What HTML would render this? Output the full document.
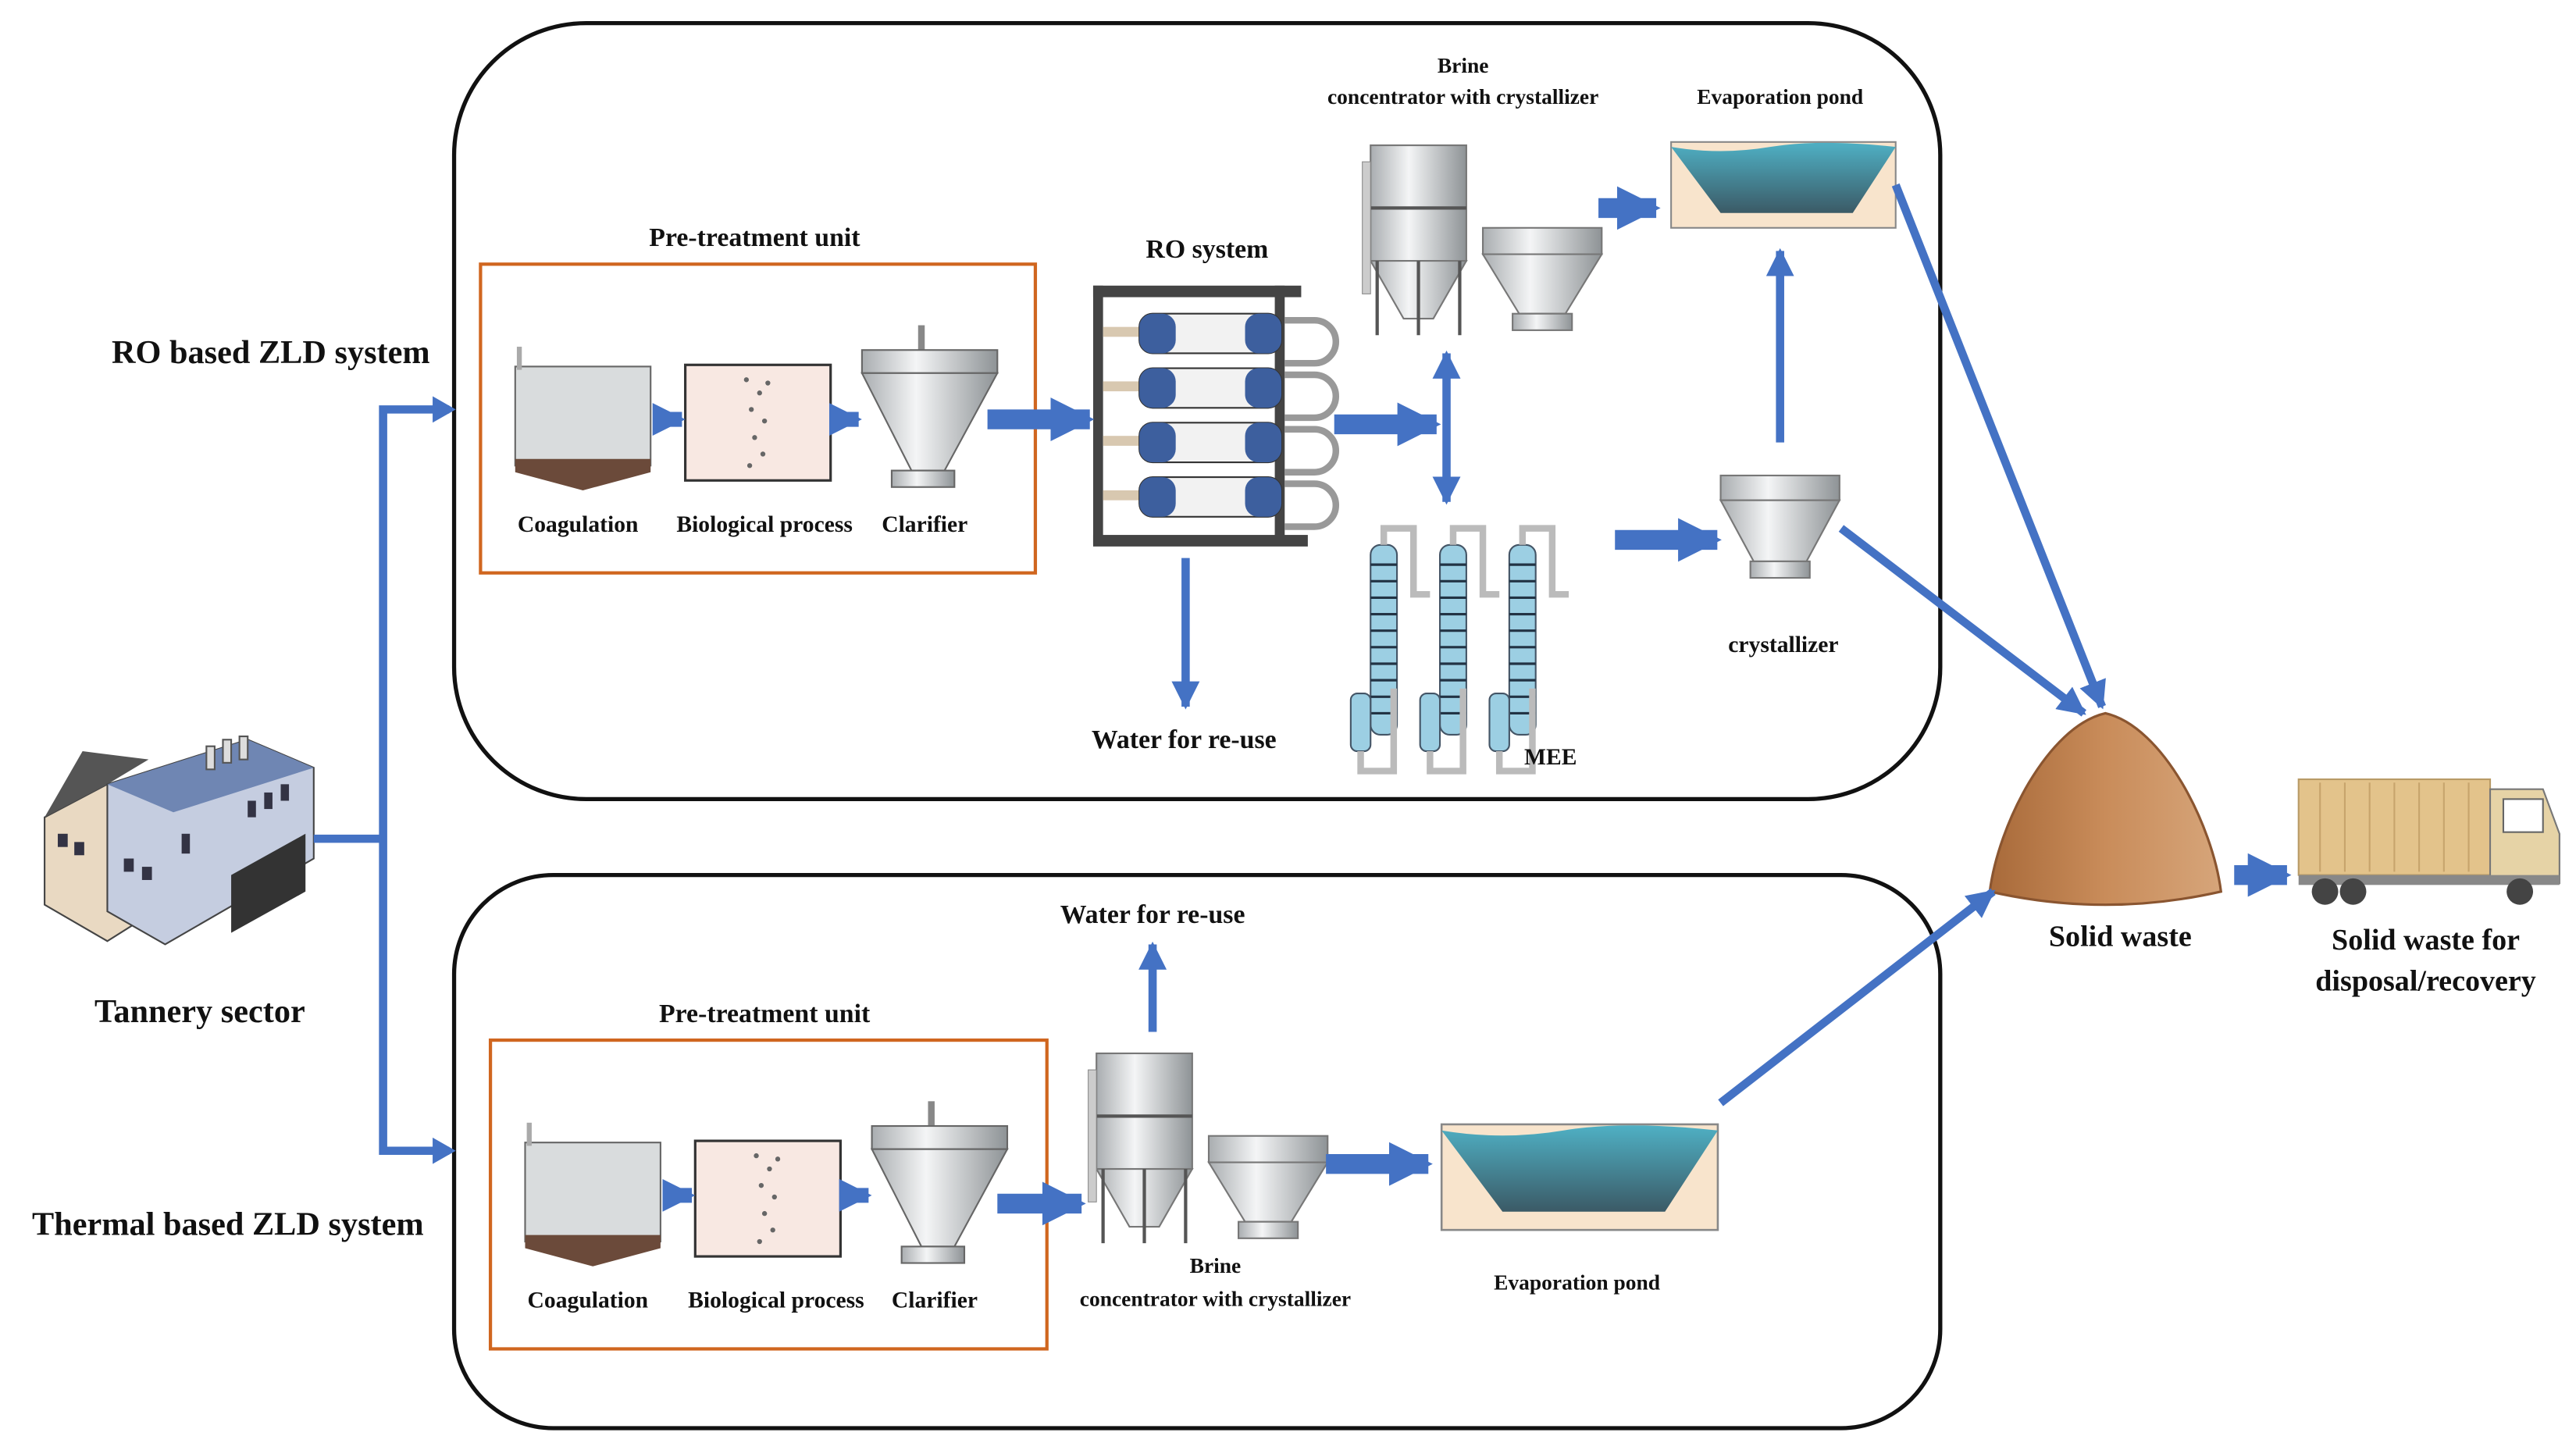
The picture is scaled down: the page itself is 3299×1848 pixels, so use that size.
<!DOCTYPE html>
<html><head><meta charset="utf-8"><style>
html,body{margin:0;padding:0;background:#fff;}
svg{display:block}
text{font-family:"Liberation Serif",serif;font-weight:bold;fill:#111;text-anchor:middle}
</style></head><body>
<svg width="3299" height="1848" viewBox="0 0 1560 874" preserveAspectRatio="none" xmlns="http://www.w3.org/2000/svg">
<defs>
<marker id="hb" viewBox="0 0 10 10" refX="9" refY="5" markerWidth="2.2" markerHeight="3" orient="auto"><path d="M0,0L10,5L0,10z" fill="#4472C4"/></marker>
<marker id="hs" viewBox="0 0 10 10" refX="9" refY="5" markerWidth="3.4" markerHeight="3.4" orient="auto-start-reverse"><path d="M0,0L10,5L0,10z" fill="#4472C4"/></marker>
<linearGradient id="met" x1="0" x2="1"><stop offset="0" stop-color="#a9adb0"/><stop offset=".4" stop-color="#f4f5f6"/><stop offset="1" stop-color="#8e9396"/></linearGradient>
<linearGradient id="wat" x1="0" y1="0" x2="0" y2="1"><stop offset="0" stop-color="#4fb0c4"/><stop offset="1" stop-color="#3b5a66"/></linearGradient>
<linearGradient id="sand" x1="0" x2="1"><stop offset="0" stop-color="#a86a3a"/><stop offset=".5" stop-color="#c98c5a"/><stop offset="1" stop-color="#d6a57a"/></linearGradient>
<g id="pre">
 <rect x="312" y="222" width="82" height="60" fill="#d9dcdd" stroke="#666" stroke-width="1"/>
 <path d="M312,278 L394,278 L394,286 L353,297 L312,286z" fill="#6b4a3a"/>
 <rect x="313" y="210" width="3" height="14" fill="#aaa"/>
 <rect x="415" y="221" width="88" height="70" fill="#f8e8e2" stroke="#333" stroke-width="1.5"/>
 <g fill="#666"><circle cx="452" cy="230" r="1.5"/><circle cx="460" cy="238" r="1.5"/><circle cx="455" cy="248" r="1.5"/><circle cx="463" cy="255" r="1.5"/><circle cx="457" cy="265" r="1.5"/><circle cx="462" cy="275" r="1.5"/><circle cx="454" cy="282" r="1.5"/><circle cx="465" cy="232" r="1.5"/></g>
 <rect x="556" y="197" width="4" height="15" fill="#888"/>
 <rect x="522" y="212" width="82" height="14" fill="url(#met)" stroke="#666" stroke-width="1"/>
 <path d="M522,226 L604,226 L572,285 L552,285z" fill="url(#met)" stroke="#666" stroke-width="1"/>
 <rect x="540" y="285" width="38" height="10" fill="url(#met)" stroke="#666" stroke-width="1"/>
 <line x1="396" y1="254" x2="413" y2="254" stroke="#4472C4" stroke-width="9" marker-end="url(#hb)"/>
 <line x1="504" y1="254" x2="520" y2="254" stroke="#4472C4" stroke-width="9" marker-end="url(#hb)"/>
</g>
<g id="brine">
 <rect x="0" y="0" width="58" height="70" fill="url(#met)" stroke="#777" stroke-width="1"/>
 <path d="M0,70 L58,70 L38,105 L20,105z" fill="url(#met)" stroke="#777" stroke-width="1"/>
 <line x1="4" y1="70" x2="4" y2="115" stroke="#555" stroke-width="2"/><line x1="29" y1="70" x2="29" y2="115" stroke="#555" stroke-width="2"/><line x1="54" y1="70" x2="54" y2="115" stroke="#555" stroke-width="2"/>
 <line x1="0" y1="38" x2="58" y2="38" stroke="#555" stroke-width="2"/>
 <rect x="-5" y="10" width="5" height="80" fill="#ccc" stroke="#888" stroke-width=".5"/>
 <rect x="68" y="50" width="72" height="16" fill="url(#met)" stroke="#777" stroke-width="1"/>
 <path d="M68,66 L140,66 L118,102 L90,102z" fill="url(#met)" stroke="#777" stroke-width="1"/>
 <rect x="86" y="102" width="36" height="10" fill="url(#met)" stroke="#777" stroke-width="1"/>
</g>
<g id="pond">
 <rect x="0" y="0" width="136" height="52" fill="#f8e4cc" stroke="#888" stroke-width="1"/>
 <path d="M0,3 Q30,8 60,3 T136,3 L110,43 L30,43z" fill="url(#wat)"/>
</g>
</defs>

<rect x="275" y="14" width="900" height="470" rx="80" fill="none" stroke="#111" stroke-width="2.5"/>
<rect x="275" y="530" width="900" height="335" rx="60" fill="none" stroke="#111" stroke-width="2.5"/>
<rect x="291" y="160" width="336" height="187" fill="none" stroke="#d0661f" stroke-width="2"/>
<rect x="297" y="630" width="337" height="187" fill="none" stroke="#d0661f" stroke-width="2"/>

<use href="#pre"/>
<use href="#pre" transform="translate(6,470)"/>

<g>
 <path d="M27,495 L65,475 L100,488 L100,548 L65,570 L27,548z" fill="#e9d9c2" stroke="#444"/>
 <path d="M27,495 L50,455 L90,460 L65,475z" fill="#555"/>
 <path d="M65,475 L150,448 L190,465 L190,520 L100,572 L65,552z" fill="#c5cde0" stroke="#444"/>
 <path d="M65,475 L150,448 L190,465 L105,492z" fill="#6f86b3"/>
 <path d="M140,530 L185,505 L185,540 L140,565z" fill="#333"/>
 <g fill="#334"><rect x="35" y="505" width="6" height="8"/><rect x="45" y="510" width="6" height="8"/><rect x="75" y="520" width="6" height="8"/><rect x="86" y="525" width="6" height="8"/><rect x="110" y="505" width="5" height="12"/><rect x="150" y="485" width="5" height="10"/><rect x="160" y="480" width="5" height="10"/><rect x="170" y="475" width="5" height="10"/></g>
 <rect x="125" y="452" width="5" height="14" fill="#ddd" stroke="#555"/><rect x="135" y="448" width="5" height="14" fill="#ddd" stroke="#555"/><rect x="145" y="446" width="5" height="14" fill="#ddd" stroke="#555"/>
</g>

<polyline points="190,508 232,508" fill="none" stroke="#4472C4" stroke-width="5"/>
<polyline points="272,248 232,248 232,697 272,697" fill="none" stroke="#4472C4" stroke-width="5"/>
<path d="M262,240 L276,248 L262,256z M262,689 L276,697 L262,705z" fill="#4472C4"/>

<g>
 <rect x="662" y="173" width="6" height="157" fill="#444"/><rect x="772" y="173" width="6" height="157" fill="#444"/>
 <rect x="662" y="173" width="126" height="7" fill="#444"/><rect x="662" y="324" width="130" height="7" fill="#444"/>
 <g id="ro1"><rect x="668" y="198" width="22" height="6" fill="#d8c8b0"/><rect x="690" y="190" width="86" height="24" rx="8" fill="#f2f2f2" stroke="#333"/><rect x="690" y="190" width="22" height="24" rx="8" fill="#3d5f9e"/><rect x="754" y="190" width="22" height="24" rx="8" fill="#3d5f9e"/><path d="M778,194 h18 a8,8 0 0 1 0,26 h-18" fill="none" stroke="#999" stroke-width="4"/></g>
 <use href="#ro1" transform="translate(0,33)"/><use href="#ro1" transform="translate(0,66)"/><use href="#ro1" transform="translate(0,99)"/>
</g>

<use href="#brine" transform="translate(830,88)"/>
<use href="#brine" transform="translate(664,638)"/>
<use href="#pond" transform="translate(1012,86)"/>
<g transform="translate(873,681) scale(1.23,1.23)"><use href="#pond"/></g>

<rect x="1042" y="288" width="72" height="15" fill="url(#met)" stroke="#777"/>
<path d="M1042,303 L1114,303 L1094,340 L1062,340z" fill="url(#met)" stroke="#777"/>
<rect x="1060" y="340" width="36" height="10" fill="url(#met)" stroke="#777"/>

<g>
 <g id="col"><rect x="830" y="330" width="16" height="115" rx="6" fill="#9ccfe3" stroke="#456" stroke-width="1"/>
 <g stroke="#234" stroke-width="1.5"><line x1="830" y1="342" x2="846" y2="342"/><line x1="830" y1="352" x2="846" y2="352"/><line x1="830" y1="362" x2="846" y2="362"/><line x1="830" y1="372" x2="846" y2="372"/><line x1="830" y1="382" x2="846" y2="382"/><line x1="830" y1="392" x2="846" y2="392"/><line x1="830" y1="402" x2="846" y2="402"/><line x1="830" y1="412" x2="846" y2="412"/><line x1="830" y1="422" x2="846" y2="422"/><line x1="830" y1="432" x2="846" y2="432"/></g>
 <rect x="818" y="420" width="12" height="35" rx="4" fill="#9ccfe3" stroke="#456"/>
 <path d="M838,330 v-10 h18 v40 h10" fill="none" stroke="#bbb" stroke-width="4"/>
 <path d="M824,455 v12 h20 v-50" fill="none" stroke="#bbb" stroke-width="4"/></g>
 <use href="#col" transform="translate(42,0)"/><use href="#col" transform="translate(84,0)"/>
</g>

<rect x="1392" y="472" width="116" height="58" fill="#e3c38b" stroke="#b89a66"/>
<g stroke="#c7a46c" stroke-width="1"><line x1="1405" y1="474" x2="1405" y2="528"/><line x1="1420" y1="474" x2="1420" y2="528"/><line x1="1435" y1="474" x2="1435" y2="528"/><line x1="1450" y1="474" x2="1450" y2="528"/><line x1="1465" y1="474" x2="1465" y2="528"/><line x1="1480" y1="474" x2="1480" y2="528"/><line x1="1495" y1="474" x2="1495" y2="528"/></g>
<path d="M1508,478 L1540,478 L1550,505 L1550,535 L1508,535z" fill="#e6d3a6" stroke="#777"/>
<rect x="1516" y="484" width="24" height="20" fill="#fff" stroke="#666"/>
<rect x="1392" y="530" width="158" height="6" fill="#888"/>
<circle cx="1408" cy="540" r="8" fill="#444"/><circle cx="1425" cy="540" r="8" fill="#444"/><circle cx="1526" cy="540" r="8" fill="#444"/>

<path d="M1205,540 C1210,500 1240,440 1275,432 C1310,440 1340,500 1345,540 Q1275,556 1205,540z" fill="url(#sand)" stroke="#8a5530" stroke-width="1.5"/>

<g stroke="#4472C4" stroke-width="12" marker-end="url(#hb)">
 <line x1="598" y1="254" x2="660" y2="254"/>
 <line x1="808" y1="257" x2="870" y2="257"/>
 <line x1="978" y1="327" x2="1040" y2="327"/>
 <line x1="968" y1="126" x2="1003" y2="126"/>
 <line x1="604" y1="729" x2="655" y2="729"/>
 <line x1="803" y1="705" x2="865" y2="705"/>
 <line x1="1353" y1="530" x2="1385" y2="530"/>
</g>
<g stroke="#4472C4" stroke-width="5" fill="none">
 <line x1="718" y1="338" x2="718" y2="428" marker-end="url(#hs)"/>
 <line x1="1078" y1="268" x2="1078" y2="152" marker-end="url(#hs)"/>
 <line x1="876" y1="214" x2="876" y2="304" marker-end="url(#hs)" marker-start="url(#hs)"/>
 <line x1="1148" y1="112" x2="1273" y2="428" marker-end="url(#hs)"/>
 <line x1="1115" y1="320" x2="1262" y2="432" marker-end="url(#hs)"/>
 <line x1="1042" y1="668" x2="1207" y2="540" marker-end="url(#hs)"/>
 <line x1="698" y1="625" x2="698" y2="572" marker-end="url(#hs)"/>
</g>

<text x="164" y="220" font-size="20">RO based ZLD system</text>
<text x="138" y="748" font-size="20">Thermal based ZLD system</text>
<text x="121" y="619" font-size="20">Tannery sector</text>
<text x="457" y="149" font-size="16">Pre-treatment unit</text>
<text x="463" y="619" font-size="16">Pre-treatment unit</text>
<text x="350" y="322" font-size="14">Coagulation</text>
<text x="463" y="322" font-size="14">Biological process</text>
<text x="560" y="322" font-size="14">Clarifier</text>
<text x="356" y="792" font-size="14">Coagulation</text>
<text x="470" y="792" font-size="14">Biological process</text>
<text x="566" y="792" font-size="14">Clarifier</text>
<text x="731" y="156" font-size="16">RO system</text>
<text x="886" y="44" font-size="13">Brine</text>
<text x="886" y="63" font-size="13">concentrator with crystallizer</text>
<text x="1078" y="63" font-size="13">Evaporation pond</text>
<text x="717" y="453" font-size="16">Water for re-use</text>
<text x="939" y="463" font-size="14">MEE</text>
<text x="1080" y="395" font-size="14">crystallizer</text>
<text x="1284" y="573" font-size="18">Solid waste</text>
<text x="1469" y="575" font-size="18">Solid waste for</text>
<text x="1469" y="600" font-size="18">disposal/recovery</text>
<text x="698" y="559" font-size="16">Water for re-use</text>
<text x="736" y="771" font-size="13">Brine</text>
<text x="736" y="791" font-size="13">concentrator with crystallizer</text>
<text x="955" y="781" font-size="13">Evaporation pond</text>
</svg>
</body></html>
